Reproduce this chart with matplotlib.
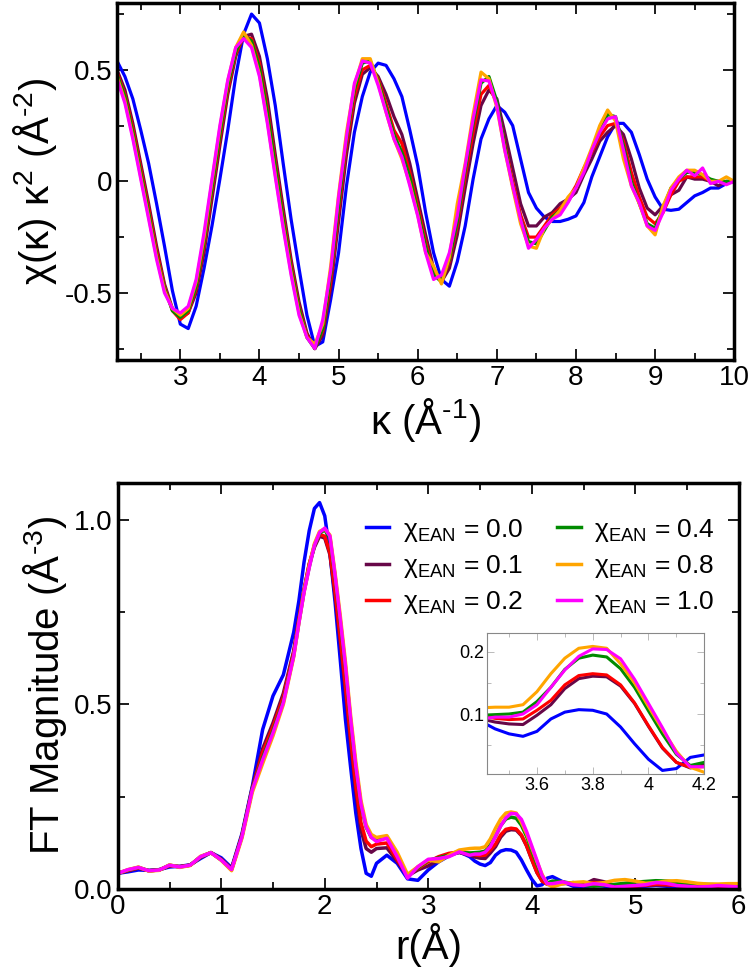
import matplotlib
matplotlib.use('Agg')
import matplotlib.pyplot as plt
from matplotlib.ticker import MultipleLocator

plt.rcParams['font.family'] = ['Liberation Sans', 'DejaVu Sans']
plt.rcParams['mathtext.default'] = 'regular'

labels = [r'$\chi_{EAN}$ = 0.0', r'$\chi_{EAN}$ = 0.1', r'$\chi_{EAN}$ = 0.2',
          r'$\chi_{EAN}$ = 0.4', r'$\chi_{EAN}$ = 0.8', r'$\chi_{EAN}$ = 1.0']
colors = ['#0000ff', '#670748', '#ff0000', '#008b00', '#ffa500', '#ff00ff']

# chi(k) k^2, top panel
k = [2.2, 2.3, 2.4, 2.5, 2.6, 2.7, 2.8, 2.9, 3.0, 3.1,
     3.2, 3.3, 3.4, 3.5, 3.6, 3.7, 3.8, 3.9, 4.0, 4.1,
     4.2, 4.3, 4.4, 4.5, 4.6, 4.7, 4.8, 4.9, 5.0, 5.1,
     5.2, 5.3, 5.4, 5.5, 5.6, 5.7, 5.8, 5.9, 6.0, 6.1,
     6.2, 6.3, 6.4, 6.5, 6.6, 6.7, 6.8, 6.9, 7.0, 7.1,
     7.2, 7.3, 7.4, 7.5, 7.6, 7.7, 7.8, 7.9, 8.0, 8.1,
     8.2, 8.3, 8.4, 8.5, 8.6, 8.7, 8.8, 8.9, 9.0, 9.1,
     9.2, 9.3, 9.4, 9.5, 9.6, 9.7, 9.8, 9.9, 10.0]

chi_00 = [0.54, 0.47, 0.37, 0.23, 0.08, -0.10, -0.29, -0.49, -0.64, -0.66,
          -0.56, -0.39, -0.20, 0.01, 0.23, 0.47, 0.66, 0.75, 0.71, 0.55,
          0.34, 0.08, -0.17, -0.39, -0.60, -0.74, -0.72, -0.53, -0.32, -0.02,
          0.22, 0.38, 0.49, 0.53, 0.52, 0.46, 0.38, 0.23, 0.07, -0.14,
          -0.32, -0.44, -0.47, -0.36, -0.20, 0.01, 0.19, 0.28, 0.34, 0.31,
          0.25, 0.10, -0.05, -0.12, -0.16, -0.18, -0.18, -0.17, -0.155, -0.095,
          0.02, 0.11, 0.20, 0.26, 0.26, 0.22, 0.12, 0.01, -0.07, -0.125,
          -0.13, -0.125, -0.095, -0.065, -0.05, -0.03, -0.03, -0.01, 0.0]
chi_01 = [0.50, 0.41, 0.26, 0.08, -0.10, -0.29, -0.46, -0.57, -0.61, -0.59,
          -0.50, -0.32, -0.08, 0.16, 0.39, 0.56, 0.65, 0.66, 0.56, 0.37,
          0.12, -0.12, -0.35, -0.54, -0.68, -0.75, -0.69, -0.48, -0.18, 0.12,
          0.35, 0.48, 0.51, 0.47, 0.39, 0.29, 0.21, 0.08, -0.08, -0.24,
          -0.39, -0.45, -0.39, -0.24, -0.03, 0.17, 0.34, 0.41, 0.37, 0.22,
          0.06, -0.10, -0.20, -0.20, -0.16, -0.14, -0.10, -0.08, -0.05, 0.03,
          0.10, 0.18, 0.22, 0.25, 0.21, 0.10, -0.03, -0.12, -0.15, -0.11,
          -0.06, -0.04, 0.02, 0.01, 0.01, 0.0, -0.02, 0.0, 0.0]
chi_02 = [0.49, 0.39, 0.24, 0.06, -0.12, -0.31, -0.47, -0.58, -0.62, -0.59,
          -0.48, -0.29, -0.05, 0.19, 0.41, 0.57, 0.65, 0.64, 0.53, 0.33,
          0.09, -0.15, -0.37, -0.56, -0.69, -0.75, -0.67, -0.45, -0.14, 0.16,
          0.38, 0.50, 0.52, 0.46, 0.35, 0.23, 0.17, 0.04, -0.11, -0.27,
          -0.41, -0.45, -0.36, -0.20, 0.02, 0.22, 0.39, 0.43, 0.35, 0.17,
          0.00, -0.15, -0.25, -0.25, -0.20, -0.15, -0.12, -0.08, -0.02, 0.06,
          0.13, 0.20, 0.25, 0.26, 0.18, 0.04, -0.07, -0.16, -0.19, -0.14,
          -0.06, 0.00, 0.02, 0.02, 0.02, 0.0, 0.0, -0.005, 0.0]
chi_04 = [0.48, 0.38, 0.22, 0.04, -0.14, -0.33, -0.48, -0.58, -0.61, -0.58,
          -0.47, -0.27, -0.03, 0.21, 0.43, 0.58, 0.655, 0.63, 0.51, 0.31,
          0.07, -0.17, -0.39, -0.57, -0.70, -0.75, -0.66, -0.42, -0.11, 0.19,
          0.41, 0.53, 0.54, 0.45, 0.33, 0.21, 0.13, 0.02, -0.13, -0.29,
          -0.42, -0.45, -0.35, -0.18, 0.05, 0.26, 0.44, 0.47, 0.36, 0.16,
          -0.02, -0.17, -0.27, -0.28, -0.22, -0.16, -0.13, -0.09, -0.03, 0.05,
          0.14, 0.22, 0.30, 0.29, 0.16, 0.00, -0.10, -0.19, -0.21, -0.12,
          -0.03, 0.01, 0.04, 0.04, 0.03, 0.01, 0.0, 0.0, 0.0]
chi_08 = [0.47, 0.36, 0.20, 0.02, -0.16, -0.34, -0.49, -0.57, -0.60, -0.57,
          -0.45, -0.25, 0.00, 0.24, 0.45, 0.60, 0.67, 0.61, 0.48, 0.27,
          0.03, -0.20, -0.41, -0.59, -0.70, -0.73, -0.64, -0.38, -0.06, 0.22,
          0.43, 0.55, 0.55, 0.44, 0.31, 0.19, 0.10, -0.01, -0.15, -0.32,
          -0.38, -0.46, -0.34, -0.10, 0.08, 0.30, 0.49, 0.46, 0.33, 0.14,
          -0.03, -0.19, -0.29, -0.30, -0.21, -0.17, -0.13, -0.07, -0.03, 0.06,
          0.15, 0.25, 0.32, 0.27, 0.10, -0.02, -0.10, -0.20, -0.24, -0.11,
          -0.03, 0.02, 0.05, 0.05, 0.03, 0.0, 0.0, 0.02, 0.0]
chi_10 = [0.46, 0.35, 0.19, 0.01, -0.17, -0.35, -0.50, -0.57, -0.59, -0.56,
          -0.44, -0.23, 0.01, 0.25, 0.455, 0.60, 0.64, 0.60, 0.47, 0.26,
          0.02, -0.21, -0.42, -0.60, -0.70, -0.75, -0.62, -0.40, -0.07, 0.20,
          0.44, 0.54, 0.53, 0.43, 0.31, 0.19, 0.11, -0.02, -0.155, -0.32,
          -0.44, -0.42, -0.32, -0.155, 0.07, 0.28, 0.455, 0.45, 0.34, 0.14,
          -0.02, -0.17, -0.30, -0.26, -0.21, -0.17, -0.15, -0.095, -0.03, 0.04,
          0.14, 0.22, 0.28, 0.29, 0.14, -0.02, -0.095, -0.20, -0.22, -0.14,
          -0.04, 0.01, 0.05, 0.025, 0.06, -0.01, 0.0, -0.015, 0.0]

# FT magnitude, bottom panel
r = [0.0, 0.1, 0.2, 0.3, 0.4, 0.5, 0.6, 0.7, 0.8, 0.9,
     1.0, 1.1, 1.2, 1.3, 1.4, 1.5, 1.6, 1.7, 1.75, 1.8,
     1.85, 1.9, 1.95, 2.0, 2.05, 2.1, 2.15, 2.2, 2.25, 2.3,
     2.35, 2.4, 2.45, 2.5, 2.6, 2.7, 2.8, 2.9, 3.0, 3.1,
     3.2, 3.3, 3.4, 3.45, 3.5, 3.55, 3.6, 3.65, 3.7, 3.75,
     3.8, 3.85, 3.9, 3.95, 4.0, 4.05, 4.1, 4.15, 4.2, 4.3,
     4.4, 4.5, 4.6, 4.7, 4.8, 4.9, 5.0, 5.1, 5.2, 5.3,
     5.4, 5.5, 5.6, 5.7, 5.8, 5.9, 6.0]

ft_00 = [0.043, 0.047, 0.052, 0.051, 0.053, 0.060, 0.062, 0.066, 0.083, 0.099,
         0.085, 0.058, 0.150, 0.278, 0.432, 0.523, 0.580, 0.695, 0.780, 0.885,
         0.970, 1.030, 1.046, 1.010, 0.910, 0.776, 0.620, 0.459, 0.330, 0.206,
         0.110, 0.043, 0.035, 0.070, 0.092, 0.070, 0.028, 0.024, 0.052, 0.074,
         0.090, 0.101, 0.088, 0.076, 0.068, 0.064, 0.072, 0.092, 0.103, 0.107,
         0.106, 0.100, 0.079, 0.052, 0.027, 0.009, 0.012, 0.030, 0.034, 0.020,
         0.008, 0.005, 0.011, 0.008, 0.005, 0.004, 0.006, 0.008, 0.010, 0.008,
         0.006, 0.005, 0.006, 0.007, 0.006, 0.005, 0.005]
ft_01 = [0.043, 0.050, 0.057, 0.050, 0.052, 0.063, 0.061, 0.065, 0.086, 0.099,
         0.081, 0.055, 0.145, 0.275, 0.380, 0.450, 0.530, 0.645, 0.730, 0.810,
         0.880, 0.925, 0.955, 0.950, 0.905, 0.795, 0.670, 0.535, 0.395, 0.265,
         0.160, 0.110, 0.100, 0.110, 0.112, 0.075, 0.036, 0.052, 0.063, 0.079,
         0.095, 0.099, 0.092, 0.087, 0.084, 0.083, 0.098, 0.115, 0.141, 0.157,
         0.161, 0.160, 0.145, 0.117, 0.080, 0.045, 0.022, 0.013, 0.018, 0.015,
         0.018, 0.012, 0.026, 0.020, 0.010, 0.008, 0.008, 0.010, 0.012, 0.012,
         0.010, 0.008, 0.007, 0.008, 0.009, 0.008, 0.007]
ft_02 = [0.043, 0.051, 0.058, 0.050, 0.052, 0.064, 0.061, 0.065, 0.087, 0.099,
         0.080, 0.054, 0.145, 0.270, 0.370, 0.440, 0.520, 0.640, 0.730, 0.810,
         0.880, 0.930, 0.960, 0.955, 0.910, 0.805, 0.680, 0.550, 0.410, 0.280,
         0.180, 0.130, 0.115, 0.122, 0.125, 0.080, 0.038, 0.056, 0.074, 0.088,
         0.097, 0.101, 0.097, 0.093, 0.091, 0.092, 0.106, 0.122, 0.147, 0.162,
         0.165, 0.163, 0.147, 0.118, 0.081, 0.046, 0.022, 0.014, 0.015, 0.016,
         0.015, 0.010, 0.018, 0.016, 0.010, 0.008, 0.009, 0.011, 0.013, 0.012,
         0.010, 0.008, 0.007, 0.008, 0.009, 0.008, 0.007]
ft_04 = [0.043, 0.052, 0.059, 0.050, 0.052, 0.065, 0.060, 0.065, 0.088, 0.099,
         0.079, 0.053, 0.143, 0.270, 0.355, 0.428, 0.508, 0.633, 0.722, 0.805,
         0.872, 0.930, 0.963, 0.972, 0.950, 0.845, 0.725, 0.600, 0.455, 0.330,
         0.228, 0.168, 0.140, 0.135, 0.142, 0.092, 0.035, 0.058, 0.078, 0.085,
         0.092, 0.100, 0.098, 0.099, 0.100, 0.103, 0.120, 0.143, 0.172, 0.190,
         0.195, 0.192, 0.173, 0.143, 0.105, 0.068, 0.035, 0.017, 0.022, 0.020,
         0.015, 0.010, 0.008, 0.010, 0.013, 0.016, 0.019, 0.021, 0.023, 0.022,
         0.019, 0.016, 0.014, 0.013, 0.012, 0.011, 0.010]
ft_08 = [0.043, 0.053, 0.060, 0.049, 0.051, 0.066, 0.059, 0.064, 0.089, 0.099,
         0.078, 0.050, 0.138, 0.262, 0.340, 0.415, 0.500, 0.628, 0.720, 0.805,
         0.875, 0.935, 0.968, 0.975, 0.958, 0.855, 0.740, 0.615, 0.470, 0.345,
         0.240, 0.175, 0.148, 0.140, 0.145, 0.100, 0.040, 0.061, 0.079, 0.074,
         0.092, 0.106, 0.110, 0.111, 0.111, 0.115, 0.136, 0.165, 0.190, 0.206,
         0.209, 0.206, 0.181, 0.150, 0.112, 0.075, 0.040, 0.014, 0.006, 0.015,
         0.018, 0.020, 0.015, 0.018, 0.024, 0.026, 0.022, 0.016, 0.018, 0.022,
         0.023, 0.020, 0.016, 0.014, 0.014, 0.015, 0.015]
ft_10 = [0.043, 0.053, 0.059, 0.050, 0.052, 0.065, 0.060, 0.065, 0.088, 0.099,
         0.079, 0.053, 0.142, 0.269, 0.350, 0.423, 0.505, 0.631, 0.720, 0.803,
         0.870, 0.930, 0.965, 0.977, 0.955, 0.849, 0.730, 0.604, 0.460, 0.332,
         0.230, 0.169, 0.140, 0.129, 0.138, 0.088, 0.030, 0.061, 0.081, 0.083,
         0.088, 0.101, 0.092, 0.095, 0.095, 0.100, 0.115, 0.143, 0.171, 0.193,
         0.205, 0.204, 0.189, 0.156, 0.117, 0.078, 0.037, 0.015, 0.015, 0.020,
         0.012, 0.010, 0.015, 0.012, 0.006, 0.008, 0.010, 0.012, 0.018, 0.016,
         0.010, 0.008, 0.006, 0.007, 0.010, 0.008, 0.006]

chi_all = [chi_00, chi_01, chi_02, chi_04, chi_08, chi_10]
ft_all = [ft_00, ft_01, ft_02, ft_04, ft_08, ft_10]

fig = plt.figure(figsize=(7.5, 9.75), dpi=100)
ax1 = fig.add_axes([0.156, 0.631, 0.823, 0.366])
ax2 = fig.add_axes([0.157, 0.088, 0.828, 0.417])
ax3 = fig.add_axes([0.649, 0.206, 0.290, 0.145])


def style(ax, lw=2.5, size=16, maj=8, mino=5, color='black'):
    for s in ax.spines.values():
        s.set_linewidth(lw)
        s.set_color(color)
    ax.tick_params(which='both', direction='in', top=True, right=True,
                   labelsize=size, color=color, width=lw * 0.5)
    ax.tick_params(which='major', length=maj)
    ax.tick_params(which='minor', length=mino)


for y, c, lab in zip(chi_all, colors, labels):
    ax1.plot(k, y, color=c, lw=2.3, label=lab)
ax1.set_xlim(2.2, 10)
ax1.set_ylim(-0.8, 0.8)
ax1.xaxis.set_major_locator(MultipleLocator(1))
ax1.xaxis.set_minor_locator(MultipleLocator(0.5))
ax1.yaxis.set_minor_locator(MultipleLocator(0.25))
ax1.set_yticks([-0.5, 0, 0.5])
ax1.set_yticklabels(['-0.5', '0', '0.5'])
style(ax1, size=20)
ax1.set_xlabel('κ (Å$^{‐1}$)', fontsize=29, labelpad=4)
ax1.set_ylabel('χ(κ) κ$^{2}$ (Å$^{‐2}$)', fontsize=29, labelpad=4)

for y, c, lab in zip(ft_all, colors, labels):
    ax2.plot(r, y, color=c, lw=2.5, label=lab)
ax2.set_xlim(0, 6)
ax2.set_ylim(0, 1.1)
ax2.xaxis.set_major_locator(MultipleLocator(1))
ax2.xaxis.set_minor_locator(MultipleLocator(0.5))
ax2.yaxis.set_minor_locator(MultipleLocator(0.25))
ax2.set_yticks([0, 0.5, 1.0])
ax2.set_yticklabels(['0.0', '0.5', '1.0'])
style(ax2, size=20)
ax2.set_xlabel('r(Å)', fontsize=29, labelpad=2)
ax2.set_ylabel('FT Magnitude (Å$^{‐3}$)', fontsize=29, labelpad=4)
ax2.legend(ncol=2, loc='upper right', bbox_to_anchor=(1.0, 0.975),
           frameon=False, fontsize=19, handlelength=0.9, handletextpad=0.5,
           columnspacing=1.3, labelspacing=0.35)

for y, c in zip(ft_all, colors):
    ax3.plot(r, y, color=c, lw=2.2)
ax3.set_xlim(3.42, 4.2)
ax3.set_ylim(0.003, 0.231)
ax3.set_xticks([3.6, 3.8, 4.0, 4.2])
ax3.set_xticklabels(['3.6', '3.8', '4', '4.2'])
ax3.xaxis.set_minor_locator(MultipleLocator(0.1))
ax3.set_yticks([0.1, 0.2])
ax3.set_yticklabels(['0.1', '0.2'])
ax3.yaxis.set_minor_locator(MultipleLocator(0.05))
style(ax3, lw=0.8, size=13, maj=5, mino=3, color='#888888')
ax3.tick_params(labelcolor='black', pad=2)

fig.savefig('out.png', dpi=100)
